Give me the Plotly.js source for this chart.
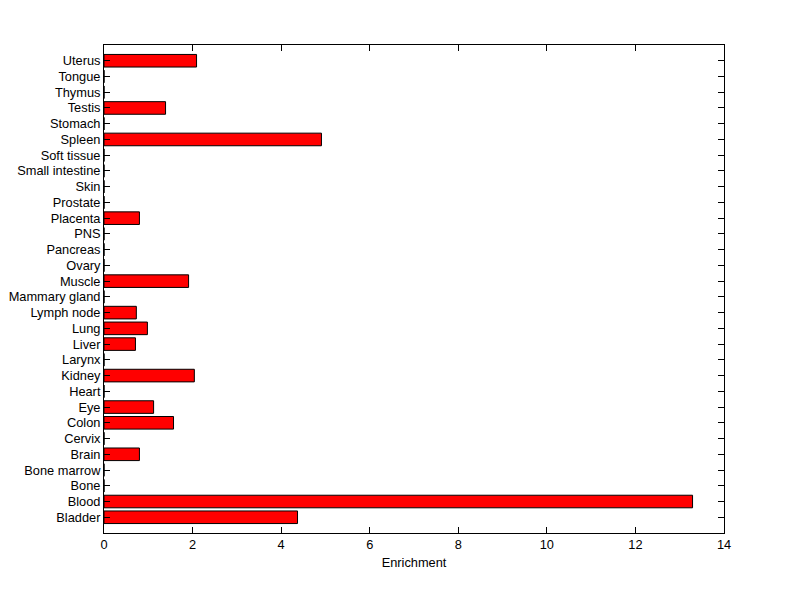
<!DOCTYPE html>
<html>
<head>
<meta charset="utf-8">
<script src="https://cdn.plot.ly/plotly-3.0.1.min.js"></script>
<style>html,body{margin:0;padding:0;background:#fff;}#chart{width:800px;height:599px;}</style>
</head>
<body>
<div id="chart"></div>
<script>
const tissues = ["Bladder","Blood","Bone","Bone marrow","Brain","Cervix","Colon","Eye","Heart","Kidney","Larynx","Liver","Lung","Lymph node","Mammary gland","Muscle","Ovary","Pancreas","PNS","Placenta","Prostate","Skin","Small intestine","Soft tissue","Spleen","Stomach","Testis","Thymus","Tongue","Uterus"];
const enrichment = [4.37,13.29,0,0,0.80,0,1.57,1.12,0,2.04,0,0.71,0.98,0.73,0,1.91,0,0,0,0.80,0,0,0,0,4.91,0,1.39,0,0,2.09];
const xTicks = [0,2,4,6,8,10,12,14];

const trace = {
  type: 'bar',
  orientation: 'h',
  y: tissues,
  x: enrichment,
  width: 0.8,
  marker: {color: '#ff0000', line: {color: '#000000', width: 1}},
  hoverinfo: 'x+y'
};

const font = {family: 'Liberation Sans, Arial, sans-serif', size: 12.8, color: '#000'};
const layout = {
  width: 800, height: 599,
  margin: {l: 104, r: 76, t: 45, b: 66, pad: 0},
  paper_bgcolor: '#fff', plot_bgcolor: '#fff',
  showlegend: false,
  font: font,
  xaxis: {
    range: [0, 14], tickmode: 'array', tickvals: xTicks, ticktext: xTicks.map(String),
    ticks: 'inside', ticklen: 6, tickcolor: '#000', tickwidth: 1,
    showline: true, linecolor: '#000', linewidth: 1, mirror: 'ticks',
    showgrid: false, zeroline: false,
    title: {text: 'Enrichment', font: font, standoff: 6},
    tickfont: font
  },
  yaxis: {
    type: 'category', categoryorder: 'array', categoryarray: tissues,
    tickmode: 'array', tickvals: tissues, ticktext: tissues,
    range: [-1, 30],
    ticks: 'inside', ticklen: 6, tickcolor: '#000', tickwidth: 1,
    showline: true, linecolor: '#000', linewidth: 1, mirror: 'ticks',
    showgrid: false, zeroline: false,
    tickfont: font
  }
};
Plotly.newPlot('chart', [trace], layout, {displayModeBar: false, staticPlot: true});
</script>
</body>
</html>
